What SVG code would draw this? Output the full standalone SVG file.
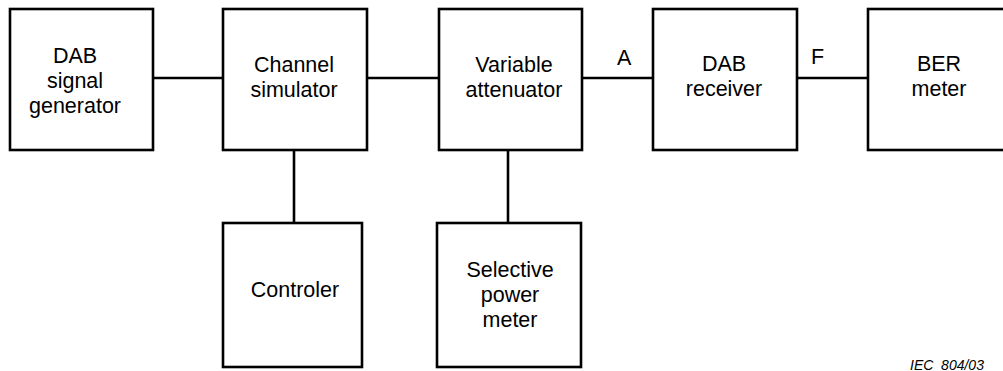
<svg xmlns="http://www.w3.org/2000/svg" width="1003" height="371" viewBox="0 0 1003 371">
<style>
.box{fill:#fff;stroke:#000;stroke-width:2.6}
.ln{stroke:#000;stroke-width:2.6;fill:none}
.t{font-family:"Liberation Sans",Arial,sans-serif;font-size:21.5px;fill:#000;text-anchor:middle}
.lbl{font-family:"Liberation Sans",Arial,sans-serif;font-size:21.5px;fill:#000}
.ref{font-family:"Liberation Sans",Arial,sans-serif;font-size:14px;font-style:italic;fill:#000}
</style>
<rect width="1003" height="371" fill="#fff"/>
<g id="connectors">
<line class="ln" x1="153" y1="78" x2="223" y2="78"/>
<line class="ln" x1="367" y1="78" x2="439" y2="78"/>
<line class="ln" x1="582" y1="78" x2="653" y2="78"/>
<line class="ln" x1="797" y1="78" x2="868" y2="78"/>
<line class="ln" x1="294" y1="150" x2="294" y2="223"/>
<line class="ln" x1="508" y1="150" x2="508" y2="223"/>
<text class="lbl" x="617" y="65">A</text>
<text class="lbl" x="811" y="64">F</text>
</g>
<g id="dab-signal-generator">
<rect class="box" x="10" y="9" width="143" height="141"/>
<text class="t" x="75" y="63">DAB</text>
<text class="t" x="75" y="88">signal</text>
<text class="t" x="75" y="113">generator</text>
</g>
<g id="channel-simulator">
<rect class="box" x="223" y="9" width="144" height="141"/>
<text class="t" x="294" y="72">Channel</text>
<text class="t" x="294" y="97">simulator</text>
</g>
<g id="variable-attenuator">
<rect class="box" x="439" y="9" width="143" height="141"/>
<text class="t" x="514" y="72">Variable</text>
<text class="t" x="514" y="97">attenuator</text>
</g>
<g id="dab-receiver">
<rect class="box" x="653" y="9" width="144" height="141"/>
<text class="t" x="724" y="71">DAB</text>
<text class="t" x="724" y="96">receiver</text>
</g>
<g id="ber-meter">
<rect class="box" x="868" y="9" width="145" height="141"/>
<text class="t" x="939" y="71">BER</text>
<text class="t" x="939" y="96">meter</text>
</g>
<g id="controler">
<rect class="box" x="223" y="223" width="139" height="144"/>
<text class="t" x="295" y="297">Controler</text>
</g>
<g id="selective-power-meter">
<rect class="box" x="437" y="223" width="144" height="144"/>
<text class="t" x="510" y="277">Selective</text>
<text class="t" x="510" y="302">power</text>
<text class="t" x="510" y="327">meter</text>
</g>
<text class="ref" x="910" y="370" xml:space="preserve">IEC  804/03</text>
</svg>
